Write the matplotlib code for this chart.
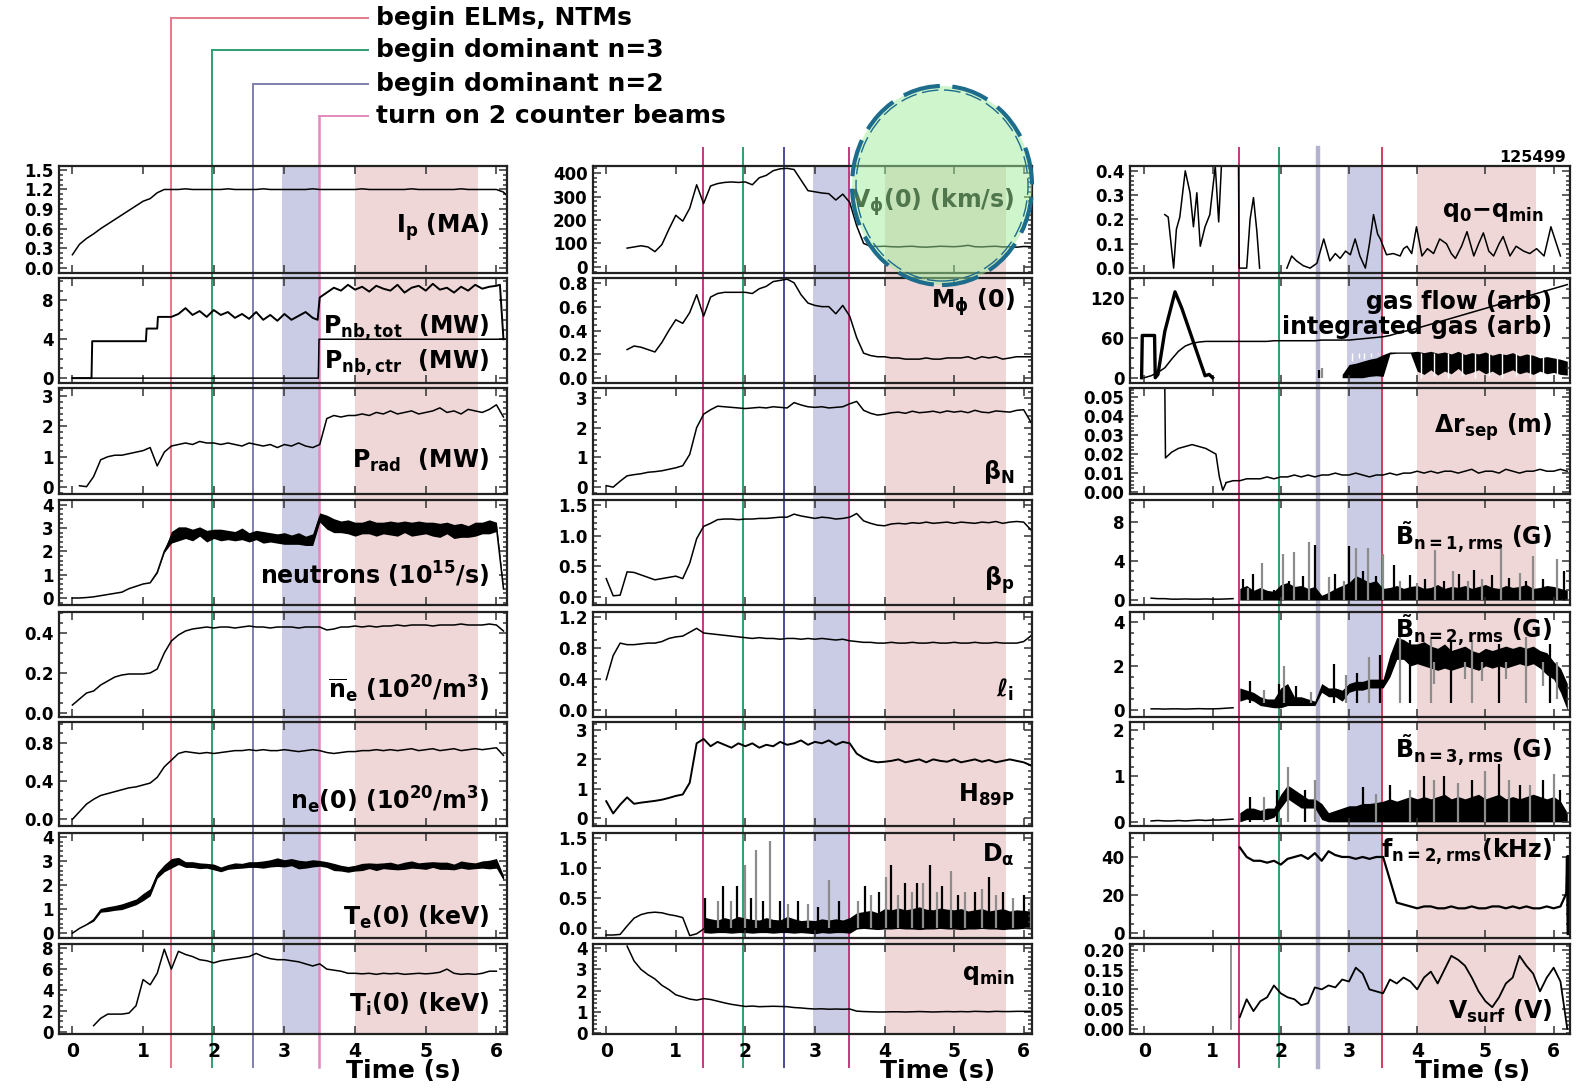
import numpy as np
import matplotlib
matplotlib.use('Agg')
import matplotlib.pyplot as plt
from matplotlib.patches import Rectangle, Ellipse
from matplotlib.lines import Line2D
from matplotlib.ticker import FixedLocator, FormatStrFormatter, AutoMinorLocator

plt.rcParams['font.family'] = ['DejaVu Sans']
plt.rcParams['font.weight'] = 'bold'
plt.rcParams['mathtext.fontset'] = 'custom'
plt.rcParams['mathtext.rm'] = 'DejaVu Sans:bold'
plt.rcParams['mathtext.bf'] = 'DejaVu Sans:bold'
plt.rcParams['mathtext.it'] = 'DejaVu Sans:bold'
plt.rcParams['mathtext.sf'] = 'DejaVu Sans:bold'
plt.rcParams['mathtext.default'] = 'bf'

N = np.nan
T = np.round(np.arange(0.0, 6.25, 0.1), 2)   # common time base, 0.0 .. 6.2 s
T14 = T[14:]                                 # from 1.4 s

# ---- events / phases ----
event_t = [1.39, 1.97, 2.55, 3.49]
event_text = ['begin ELMs, NTMs', 'begin dominant n=3', 'begin dominant n=2',
              'turn on 2 counter beams']
band_blue = [2.97, 3.49]
band_pink = [4.0, 5.74]

# ---- left column ----
ip = [0.20, 0.36, 0.45, 0.52, 0.60, 0.67, 0.74, 0.81, 0.88, 0.95,
      1.02, 1.06, 1.15, 1.20, 1.20, 1.20, 1.21, 1.20, 1.20, 1.20,
      1.20, 1.20, 1.21, 1.20, 1.20, 1.20, 1.20, 1.21, 1.20, 1.20,
      1.20, 1.20, 1.20, 1.20, 1.21, 1.20, 1.20, 1.20, 1.20, 1.20,
      1.20, 1.21, 1.20, 1.20, 1.20, 1.20, 1.20, 1.20, 1.21, 1.20,
      1.20, 1.20, 1.20, 1.20, 1.20, 1.21, 1.20, 1.20, 1.20, 1.20,
      1.20, 1.16, 1.05]

pnb_t = [0.0, 0.27, 0.28, 1.04, 1.05, 1.20, 1.21,
         1.4, 1.5, 1.6, 1.7, 1.8, 1.9, 2.0, 2.1, 2.2, 2.3,
         2.4, 2.5, 2.6, 2.7, 2.8, 2.9, 3.0, 3.1, 3.2, 3.3,
         3.4, 3.47, 3.5, 3.6, 3.7, 3.8, 3.9, 4.0, 4.1, 4.2,
         4.3, 4.4, 4.5, 4.6, 4.7, 4.8, 4.9, 5.0, 5.1, 5.2,
         5.3, 5.4, 5.5, 5.6, 5.7, 5.8, 5.9, 6.0, 6.05, 6.1]
pnb_v = [0.0, 0.0, 3.8, 3.8, 5.1, 5.1, 6.3,
         6.3, 6.6, 7.2, 6.5, 6.9, 6.3, 7.0, 6.5, 6.8, 6.2,
         6.6, 6.1, 6.8, 6.0, 6.5, 5.9, 6.6, 6.0, 6.4, 6.8,
         6.2, 6.0, 8.3, 8.8, 9.3, 9.0, 9.6, 9.1, 9.4, 8.9,
         9.5, 9.2, 9.0, 9.6, 8.8, 9.3, 9.5, 9.0, 9.7, 9.1,
         9.3, 8.8, 9.4, 9.0, 9.6, 9.2, 9.4, 9.5, 9.6, 4.0]
pnb_ctr_t = [0.0, 3.48, 3.49, 6.2]
pnb_ctr_v = [0.0, 0.0, 4.0, 4.0]

prad = [N, 0.05, 0.02, 0.35, 0.90, 1.00, 1.05, 1.05, 1.10, 1.15,
        1.20, 1.30, 0.70, 1.15, 1.35, 1.40, 1.45, 1.40, 1.50, 1.45,
        1.45, 1.40, 1.45, 1.40, 1.35, 1.45, 1.40, 1.35, 1.40, 1.30,
        1.40, 1.35, 1.45, 1.35, 1.30, 1.40, 2.25, 2.35, 2.30, 2.35,
        2.35, 2.40, 2.35, 2.45, 2.40, 2.50, 2.40, 2.45, 2.50, 2.40,
        2.45, 2.50, 2.60, 2.45, 2.50, 2.40, 2.55, 2.50, 2.45, 2.55,
        2.70, 2.30, N]

neut = [0.00, 0.00, 0.02, 0.05, 0.10, 0.15, 0.20, 0.25, 0.40, 0.50,
        0.60, 0.65, 1.10, 2.00, 2.60, 2.75, 2.80, 2.70, 2.85, 2.65,
        2.75, 2.70, 2.70, 2.65, 2.75, 2.60, 2.70, 2.60, 2.60, 2.55,
        2.55, 2.50, 2.55, 2.45, 2.50, 3.45, 3.25, 3.10, 3.05, 3.05,
        2.95, 3.00, 3.05, 2.95, 3.00, 3.00, 2.95, 3.05, 2.95, 3.00,
        3.00, 2.95, 2.90, 3.00, 2.85, 2.90, 2.85, 2.95, 3.00, 3.05,
        3.05, 0.40, N]
neut_amp = [0, 0, 0, 0, 0, 0, 0, 0, 0, 0,
            0, 0, 0.03, 0.05, 0.25, 0.30, 0.25, 0.25, 0.20, 0.25,
            0.20, 0.25, 0.20, 0.20, 0.25, 0.20, 0.20, 0.25, 0.20, 0.20,
            0.25, 0.20, 0.25, 0.20, 0.25, 0.20, 0.30, 0.30, 0.25, 0.30,
            0.30, 0.25, 0.30, 0.30, 0.25, 0.30, 0.30, 0.25, 0.30, 0.30,
            0.25, 0.30, 0.30, 0.25, 0.30, 0.30, 0.25, 0.30, 0.25, 0.30,
            0.20, 0.05, 0]

neb = [0.04, 0.07, 0.10, 0.11, 0.14, 0.16, 0.18, 0.19, 0.195, 0.195,
       0.195, 0.20, 0.22, 0.30, 0.36, 0.39, 0.41, 0.42, 0.425, 0.43,
       0.425, 0.43, 0.43, 0.425, 0.43, 0.435, 0.43, 0.43, 0.425, 0.43,
       0.43, 0.43, 0.425, 0.43, 0.43, 0.43, 0.415, 0.42, 0.43, 0.43,
       0.435, 0.43, 0.435, 0.43, 0.435, 0.435, 0.44, 0.435, 0.44, 0.44,
       0.44, 0.435, 0.44, 0.44, 0.44, 0.445, 0.44, 0.44, 0.44, 0.445,
       0.44, 0.41, N]

ne0 = [0.00, 0.08, 0.16, 0.21, 0.25, 0.27, 0.29, 0.31, 0.33, 0.34,
       0.36, 0.38, 0.44, 0.55, 0.62, 0.69, 0.71, 0.70, 0.69, 0.70,
       0.69, 0.70, 0.71, 0.72, 0.72, 0.73, 0.72, 0.73, 0.72, 0.72,
       0.73, 0.72, 0.71, 0.72, 0.73, 0.72, 0.70, 0.69, 0.70, 0.71,
       0.71, 0.72, 0.72, 0.73, 0.72, 0.73, 0.72, 0.73, 0.74, 0.72,
       0.73, 0.74, 0.72, 0.73, 0.74, 0.72, 0.73, 0.74, 0.73, 0.74,
       0.75, 0.67, N]

te = [0.00, 0.20, 0.35, 0.55, 0.95, 1.00, 1.05, 1.10, 1.20, 1.30,
      1.50, 1.70, 2.40, 2.70, 2.90, 3.00, 2.85, 2.85, 2.80, 2.80,
      2.75, 2.65, 2.75, 2.80, 2.80, 2.85, 2.85, 2.85, 2.90, 2.95,
      2.90, 2.95, 2.85, 2.85, 2.90, 2.90, 2.85, 2.75, 2.70, 2.65,
      2.70, 2.75, 2.80, 2.75, 2.80, 2.80, 2.75, 2.80, 2.85, 2.80,
      2.80, 2.85, 2.80, 2.80, 2.75, 2.85, 2.80, 2.80, 2.85, 2.85,
      2.90, 2.30, N]
te_amp = [0, 0, 0, 0.05, 0.08, 0.10, 0.10, 0.12, 0.12, 0.12,
          0.15, 0.15, 0.12, 0.15, 0.20, 0.15, 0.12, 0.12, 0.12, 0.10,
          0.12, 0.10, 0.10, 0.12, 0.10, 0.12, 0.12, 0.15, 0.15, 0.18,
          0.15, 0.15, 0.18, 0.15, 0.15, 0.12, 0.12, 0.15, 0.12, 0.12,
          0.12, 0.15, 0.12, 0.15, 0.12, 0.15, 0.12, 0.15, 0.15, 0.12,
          0.15, 0.12, 0.15, 0.15, 0.12, 0.15, 0.15, 0.12, 0.15, 0.18,
          0.20, 0.10, 0]

ti = [N, N, N, 0.60, 1.30, 1.70, 1.70, 1.70, 1.80, 2.50,
      5.00, 4.50, 5.60, 7.90, 6.00, 7.70, 7.40, 7.20, 6.90, 6.80,
      6.60, 6.80, 6.90, 7.00, 7.10, 7.20, 7.50, 7.20, 7.00, 6.90,
      6.90, 6.80, 6.70, 6.50, 6.30, 6.50, 6.00, 5.90, 5.80, 5.60,
      5.60, 5.55, 5.60, 5.50, 5.60, 5.55, 5.60, 5.50, 5.55, 5.60,
      5.55, 5.60, 5.70, 6.00, 5.60, 5.50, 5.55, 5.50, 5.60, 5.80,
      5.80, N, N]

# ---- middle column ----
vphi = [N, N, N, 80, 85, 90, 85, 65, 95, 160,
        220, 195, 250, 350, 270, 345, 355, 360, 362, 360,
        362, 350, 380, 390, 410, 418, 420, 415, 370, 325,
        320, 315, 312, 285, 310, 275, 175, 100, 88, 87,
        88, 86, 85, 87, 88, 85, 84, 86, 88, 87,
        86, 88, 92, 86, 85, 87, 88, 85, 86, 84,
        87, 86, 88]

mphi = [N, N, N, 0.24, 0.27, 0.26, 0.24, 0.22, 0.30, 0.40,
        0.49, 0.46, 0.55, 0.70, 0.52, 0.68, 0.71, 0.72, 0.72, 0.72,
        0.72, 0.71, 0.75, 0.77, 0.81, 0.82, 0.83, 0.80, 0.70, 0.63,
        0.61, 0.60, 0.60, 0.54, 0.61, 0.52, 0.34, 0.21, 0.19, 0.18,
        0.18, 0.17, 0.17, 0.16, 0.16, 0.16, 0.17, 0.16, 0.16, 0.17,
        0.17, 0.17, 0.18, 0.16, 0.18, 0.17, 0.18, 0.16, 0.17, 0.18,
        0.18, 0.18, 0.18]

betan = [0.05, 0.00, 0.20, 0.38, 0.42, 0.45, 0.50, 0.52, 0.55, 0.60,
         0.65, 0.72, 1.10, 2.00, 2.45, 2.60, 2.72, 2.70, 2.68, 2.66,
         2.64, 2.66, 2.68, 2.66, 2.70, 2.68, 2.66, 2.84, 2.76, 2.70,
         2.68, 2.70, 2.66, 2.68, 2.70, 2.80, 2.88, 2.58, 2.48, 2.42,
         2.45, 2.50, 2.52, 2.48, 2.55, 2.50, 2.52, 2.55, 2.50, 2.56,
         2.52, 2.55, 2.50, 2.58, 2.52, 2.50, 2.56, 2.54, 2.52, 2.58,
         2.60, 2.20, 1.85]

betap = [0.30, 0.02, 0.03, 0.41, 0.40, 0.36, 0.32, 0.28, 0.30, 0.32,
         0.34, 0.30, 0.55, 0.95, 1.15, 1.20, 1.26, 1.27, 1.27, 1.26,
         1.27, 1.27, 1.28, 1.28, 1.29, 1.30, 1.30, 1.35, 1.32, 1.30,
         1.28, 1.30, 1.29, 1.27, 1.28, 1.30, 1.36, 1.24, 1.20, 1.17,
         1.16, 1.19, 1.20, 1.19, 1.21, 1.20, 1.22, 1.20, 1.21, 1.22,
         1.20, 1.22, 1.21, 1.20, 1.22, 1.21, 1.23, 1.20, 1.22, 1.23,
         1.22, 1.10, 0.95]

li = [0.39, 0.70, 0.86, 0.84, 0.84, 0.85, 0.86, 0.86, 0.88, 0.92,
      0.94, 0.95, 1.00, 1.05, 0.99, 0.98, 0.97, 0.96, 0.95, 0.94,
      0.93, 0.92, 0.93, 0.92, 0.92, 0.91, 0.92, 0.92, 0.91, 0.92,
      0.91, 0.92, 0.91, 0.90, 0.91, 0.89, 0.88, 0.87, 0.87, 0.86,
      0.86, 0.87, 0.86, 0.86, 0.87, 0.86, 0.86, 0.87, 0.86, 0.86,
      0.87, 0.86, 0.86, 0.87, 0.86, 0.86, 0.87, 0.86, 0.86, 0.86,
      0.88, 0.95, 1.05]

h89 = [0.57, 0.15, 0.45, 0.70, 0.48, 0.52, 0.55, 0.58, 0.62, 0.68,
       0.75, 0.80, 1.20, 2.55, 2.70, 2.45, 2.60, 2.50, 2.40, 2.55,
       2.45, 2.55, 2.40, 2.50, 2.45, 2.60, 2.50, 2.55, 2.65, 2.50,
       2.60, 2.55, 2.65, 2.50, 2.60, 2.55, 2.20, 2.05, 1.95, 1.90,
       1.92, 1.95, 2.00, 1.90, 1.95, 2.00, 1.90, 2.00, 1.95, 1.92,
       2.00, 1.90, 1.95, 2.00, 1.92, 1.98, 1.90, 1.95, 2.00, 1.95,
       1.90, 1.80, 1.60]

da_pre = [-0.12, -0.12, -0.11, 0.03, 0.16, 0.22, 0.25, 0.26, 0.25, 0.22,
          0.20, 0.17, -0.13, -0.10, -0.02]
da_hi = [0.18, 0.15, 0.13, 0.17, 0.14, 0.19, 0.16, 0.14, 0.13, 0.17,
         0.14, 0.13, 0.19, 0.15, 0.12, 0.13, 0.12, 0.15, 0.13, 0.15,
         0.13, 0.17, 0.25, 0.27, 0.29, 0.25, 0.32, 0.30, 0.33, 0.30,
         0.32, 0.35, 0.31, 0.30, 0.33, 0.31, 0.30, 0.32, 0.28, 0.30,
         0.32, 0.28, 0.30, 0.32, 0.28, 0.30, 0.29, 0.28, 0.26]
da_lo = [-0.08, -0.09, -0.08, -0.08, -0.09, -0.08, -0.08, -0.09, -0.08, -0.08,
         -0.09, -0.08, -0.08, -0.09, -0.08, -0.09, -0.10, -0.08, -0.09, -0.08,
         -0.08, -0.09, -0.02, -0.01, -0.02, -0.03, -0.02, -0.02, -0.01, -0.02,
         -0.02, -0.03, -0.02, -0.02, -0.01, -0.02, -0.02, -0.03, -0.02, -0.02,
         -0.01, -0.02, -0.02, -0.03, -0.02, -0.02, -0.01, -0.02, -0.03]
da_sp_t = [1.42, 1.60, 1.68, 1.80, 1.88, 2.00, 2.08, 2.15, 2.25, 2.35,
           2.50, 2.62, 2.75, 2.90, 3.05, 3.20, 3.35, 3.62, 3.72, 3.80,
           3.92, 4.02, 4.10, 4.20, 4.30, 4.40, 4.47, 4.55, 4.65, 4.75,
           4.82, 4.95, 5.05, 5.15, 5.30, 5.40, 5.50, 5.60, 5.70, 5.85,
           6.00, 6.10]
da_sp_h = [0.50, 0.45, 0.70, 0.45, 0.70, 1.05, 0.50, 1.30, 0.45, 1.45,
           0.45, 0.40, 0.45, 0.40, 0.35, 0.80, 0.45, 0.45, 0.70, 0.55,
           0.60, 0.85, 1.05, 0.55, 0.75, 0.60, 0.75, 0.75, 1.05, 0.60,
           0.70, 0.95, 0.55, 0.60, 0.60, 0.65, 0.85, 0.55, 0.60, 0.50,
           0.55, 0.50]

qmin = [N, N, N, 4.10, 3.40, 3.00, 2.75, 2.55, 2.25, 2.05,
        1.80, 1.70, 1.60, 1.55, 1.62, 1.58, 1.50, 1.42, 1.35, 1.30,
        1.25, 1.27, 1.24, 1.25, 1.26, 1.25, 1.24, 1.20, 1.18, 1.15,
        1.13, 1.14, 1.12, 1.13, 1.12, 1.13, 1.03, 1.01, 1.00, 0.99,
        0.99, 1.00, 1.00, 0.99, 1.00, 1.01, 1.00, 0.99, 1.00, 1.01,
        1.00, 1.01, 1.00, 1.02, 1.01, 1.00, 1.02, 1.01, 1.01, 1.02,
        1.02, 1.02, N]

# ---- right column ----
q0a_t = [0.30, 0.35, 0.43, 0.47, 0.52, 0.60, 0.67, 0.72, 0.77, 0.82,
         0.89, 0.96, 1.04, 1.09, 1.13, 1.21, 1.30, 1.38, 1.39, 1.50,
         1.55, 1.60, 1.65, 1.69]
q0a_v = [0.22, 0.21, 0.0, 0.16, 0.21, 0.40, 0.31, 0.17, 0.31, 0.09,
         0.17, 0.22, 0.42, 0.19, 0.42, 0.45, 0.45, 0.45, 0.0, 0.0,
         0.20, 0.29, 0.15, 0.0]
q0b_t = [2.09, 2.16, 2.23, 2.33, 2.43, 2.53, 2.63, 2.72, 2.80, 2.87,
         2.95, 3.02, 3.09, 3.16, 3.24, 3.30, 3.36, 3.42, 3.46, 3.55,
         3.65, 3.75, 3.80, 3.85, 3.92, 3.99, 4.07, 4.15, 4.24, 4.33,
         4.43, 4.50, 4.56, 4.65, 4.73, 4.83, 4.90, 4.97, 5.05, 5.12,
         5.20, 5.26, 5.36, 5.45, 5.56, 5.65, 5.75, 5.86, 5.96, 6.10]
q0b_v = [0.0, 0.05, 0.03, 0.01, 0.0, 0.02, 0.12, 0.03, 0.06, 0.04,
         0.07, 0.055, 0.12, 0.05, 0.0, 0.10, 0.22, 0.14, 0.12, 0.055,
         0.06, 0.05, 0.08, 0.09, 0.06, 0.17, 0.05, 0.08, 0.06, 0.12,
         0.10, 0.06, 0.04, 0.09, 0.15, 0.05, 0.10, 0.145, 0.07, 0.05,
         0.10, 0.13, 0.05, 0.09, 0.07, 0.06, 0.08, 0.05, 0.17, 0.05]

gas_t = [-0.04, -0.03, 0.15, 0.16, 0.20, 0.30, 0.45, 0.55, 0.65, 0.75,
         0.89, 0.95, 1.00]
gas_v = [0, 64, 64, 0, 5, 70, 130, 105, 75, 45, 3, 5, 0]
gas_lo = [0, 0, 0, 0, 2, 3, 2, 36, 37, 37,
          37, 10, 5, 12, 4, 10, 6, 14, 5, 8,
          12, 6, 10, 4, 8, 12, 6, 9, 5, 10,
          6, 8, 5, 4]
gas_hi = [5, 20, 22, 25, 28, 30, 35, 39, 39, 39,
          39, 40, 38, 40, 37, 39, 36, 40, 35, 38,
          36, 39, 34, 37, 35, 38, 33, 36, 34, 30,
          32, 30, 28, 25]
gas_blip_t = [2.56, 2.60]
gas_blip_h = [12, 15]
gas_sp_t = [3.05, 3.15, 3.22, 3.32, 3.42, 4.05, 4.25, 4.45, 4.65, 4.85,
            5.05, 5.25, 5.45, 5.65, 5.85, 6.05]
gas_sp_h = [25, 30, 28, 32, 36, 0, 2, 0, 3, 0,
            2, 0, 3, 0, 2, 0]
integ = [0, 3, 8, 15, 28, 40, 48, 52, 54, 55,
         55, 55, 55, 55, 55, 55, 55, 55, 55, 56,
         56, 56, 56, 56, 56, 56, 57, 57, 57, 57,
         57, 58, 59, 60, 61, 62, 64, 67, 70, 72,
         75, 78, 81, 84, 87, 90, 93, 96, 99, 102,
         105, 108, 111, 114, 117, 120, 123, 126, 129, 132,
         135, 138, 141]

dr0_t = [0.30, 0.31, 0.40, 0.50, 0.60, 0.70, 0.80, 0.90, 1.00, 1.05, 1.10, 1.15, 1.20]
dr0_v = [0.056, 0.018, 0.021, 0.023, 0.024, 0.025, 0.024, 0.023, 0.021, 0.020,
         0.008, 0.001, 0.005]
dr = [0.005, 0.006, 0.006, 0.007, 0.007, 0.007, 0.008, 0.007, 0.008, 0.008,
      0.009, 0.008, 0.009, 0.008, 0.009, 0.009, 0.010, 0.009, 0.009, 0.010,
      0.009, 0.008, 0.009, 0.009, 0.010, 0.009, 0.010, 0.010, 0.011, 0.010,
      0.011, 0.010, 0.011, 0.011, 0.010, 0.011, 0.012, 0.010, 0.011, 0.011,
      0.010, 0.012, 0.011, 0.010, 0.011, 0.011, 0.012, 0.011, 0.011, 0.012,
      0.011]

bn1_pre = [0.20, 0.15, 0.15, 0.10, 0.10, 0.12, 0.10, 0.10, 0.12, 0.10, 0.10, 0.12, 0.15]
bn1_hi = [1.2, 1.5, 1.0, 1.3, 1.0, 0.9, 1.6, 1.8, 1.4, 1.5,
          1.2, 1.4, 0.5, 0.8, 1.2, 1.5, 1.8, 2.5, 2.2, 1.8,
          2.0, 1.2, 1.3, 1.5, 1.2, 1.4, 1.5, 1.2, 1.3, 1.6,
          1.2, 1.4, 1.3, 1.5, 1.2, 1.4, 1.6, 1.3, 1.2, 1.5,
          1.3, 1.4, 1.6, 1.2, 1.3, 1.5, 1.4, 1.2, 1.0]
bn1_sp_t = [1.44, 1.52, 1.60, 1.72, 1.90, 2.04, 2.12, 2.20, 2.32, 2.41,
            2.50, 2.70, 2.80, 2.92, 3.00, 3.11, 3.20, 3.28, 3.40, 3.50,
            3.66, 3.75, 3.90, 4.00, 4.12, 4.26, 4.40, 4.52, 4.62, 4.74,
            4.84, 4.95, 5.10, 5.23, 5.35, 5.50, 5.60, 5.70, 5.85, 6.05,
            6.15]
bn1_sp_h = [2.2, 1.2, 2.7, 3.8, 1.0, 4.7, 2.0, 4.9, 2.5, 6.0,
            5.6, 2.4, 2.7, 2.0, 5.5, 5.3, 3.0, 5.3, 2.5, 4.7,
            3.6, 2.0, 2.6, 1.8, 2.2, 5.1, 2.0, 3.0, 2.7, 2.0,
            3.1, 2.2, 2.6, 5.3, 2.3, 2.8, 2.0, 4.5, 2.2, 4.2,
            3.0]

bn2_pre = [0.05, 0.05, 0.04, 0.05, 0.05, 0.04, 0.05, 0.06, 0.05, 0.05, 0.06, 0.08, 0.10]
bn2_lo = [0.4, 0.5, 0.4, 0.2, 0.15, 0.1, 0.1, 0.2, 0.2, 0.2,
          0.2, 0.2, 0.8, 0.6, 0.6, 0.4, 0.8, 0.9, 0.9, 1.0,
          1.0, 1.0, 1.5, 2.3, 2.3, 2.0, 2.1, 2.0, 1.9, 1.8,
          1.9, 1.8, 1.9, 2.0, 1.9, 1.8, 2.0, 1.9, 2.0, 1.9,
          2.0, 2.1, 2.0, 2.1, 1.9, 1.6, 1.4, 0.8, 0.0]
bn2_hi = [1.0, 0.9, 0.8, 0.6, 0.5, 0.5, 1.0, 1.2, 0.6, 0.6,
          0.5, 0.4, 1.2, 1.0, 1.0, 0.9, 1.2, 1.3, 1.3, 1.4,
          1.4, 1.4, 2.5, 3.3, 3.2, 3.0, 3.0, 3.1, 2.9, 2.8,
          3.0, 2.7, 2.8, 2.9, 2.7, 2.6, 2.8, 2.7, 2.8, 2.9,
          2.8, 2.9, 2.8, 2.9, 2.7, 2.6, 2.2, 1.9, 1.2]
bn2_sp_t = [1.55, 1.75, 1.98, 2.05, 2.22, 2.45, 2.78, 2.95, 3.12, 3.30,
            3.45, 3.75, 3.90, 4.20, 4.50, 4.80, 5.20, 5.60, 5.95]
bn2_sp_h = [1.3, 0.9, 1.2, 2.0, 1.1, 0.8, 2.1, 1.6, 1.7, 2.4,
            2.5, 3.4, 3.2, 3.3, 3.1, 3.2, 3.0, 3.3, 3.0]
bn2_dn_t = [4.25, 4.70, 4.95, 5.30, 5.85, 6.05]
bn2_dn_v = [1.2, 1.4, 1.3, 1.4, 1.1, 0.5]

bn3_pre = [0.02, 0.03, 0.02, 0.02, 0.03, 0.02, 0.03, 0.04, 0.03, 0.04, 0.04, 0.05, 0.06]
bn3_lo = [0.00, 0.05, 0.05, 0.05, 0.05, 0.10, 0.30, 0.50, 0.40, 0.30,
          0.30, 0.30, 0.05, 0.00, 0.00, 0.00, 0.00, 0.00, 0.00, 0.00,
          0.00, 0.00, 0.00, 0.00, 0.00, 0.00, 0.00, 0.00, 0.00, 0.00,
          0.00, 0.00, 0.00, 0.00, 0.00, 0.00, 0.00, 0.00, 0.00, 0.00,
          0.00, 0.00, 0.00, 0.00, 0.00, 0.00, 0.00, 0.00, 0.00]
bn3_hi = [0.20, 0.30, 0.30, 0.25, 0.30, 0.30, 0.60, 0.80, 0.70, 0.60,
          0.50, 0.50, 0.40, 0.20, 0.25, 0.30, 0.35, 0.35, 0.40, 0.40,
          0.42, 0.45, 0.50, 0.45, 0.50, 0.55, 0.50, 0.55, 0.50, 0.55,
          0.60, 0.50, 0.55, 0.50, 0.55, 0.60, 0.50, 0.55, 0.60, 0.50,
          0.55, 0.50, 0.55, 0.60, 0.55, 0.50, 0.55, 0.45, 0.20]
bn3_sp_t = [1.55, 1.75, 1.95, 2.10, 2.35, 2.50, 3.20, 3.40, 3.60, 3.90,
            4.10, 4.25, 4.40, 4.60, 4.80, 5.00, 5.20, 5.35, 5.50, 5.65,
            5.85, 6.00, 6.10]
bn3_sp_h = [0.55, 0.55, 0.70, 1.20, 0.70, 0.90, 0.75, 0.60, 0.80, 0.70,
            1.00, 0.90, 1.00, 0.85, 0.90, 1.10, 1.25, 0.90, 0.80, 0.80,
            0.90, 1.05, 0.70]

fn2 = [45, 40, 38, 38, 37, 38, 36, 39, 40, 41,
       39, 42, 38, 43, 41, 40, 40, 39, 40, 39,
       40, 40, 28, 16, 15, 14, 13, 14, 14, 13,
       13, 14, 13, 13, 14, 13, 13, 14, 14, 13,
       14, 13, 14, 13, 13, 14, 13, 14, 22]
fn2_tail_t = [6.2, 6.21, 6.22]
fn2_tail_v = [22, 40, 0]

vs_pre_t = [1.27, 1.27]
vs_pre_v = [0.21, 0.0]
vs = [0.030, 0.075, 0.045, 0.070, 0.080, 0.110, 0.090, 0.080, 0.075, 0.060,
      0.065, 0.105, 0.100, 0.110, 0.105, 0.125, 0.120, 0.155, 0.140, 0.100,
      0.095, 0.090, 0.125, 0.115, 0.130, 0.120, 0.100, 0.130, 0.145, 0.115,
      0.150, 0.185, 0.175, 0.160, 0.130, 0.095, 0.070, 0.055, 0.080, 0.115,
      0.130, 0.185, 0.160, 0.140, 0.095, 0.130, 0.155, 0.120, 0.000]

# ---------------------------------------------------------------------------
W, H = 1580, 1088
fig = plt.figure(figsize=(W / 100, H / 100), dpi=100)

rows = [(166, 273), (278, 383), (388, 494), (500, 605),
        (612, 717), (722, 826), (833, 938), (944, 1034)]
cols = [(59, 507, (-0.19, 6.15)), (593, 1032, (-0.19, 6.12)), (1130, 1570, (-0.21, 6.24))]
LW = 1.1
LABEL_FS = 17


def make_ax(c, r, ylim, yticks, fmt, label=None, ly=0.5, lx=0.96):
    x0, x1, xl = cols[c]
    y0, y1 = rows[r]
    ax = fig.add_axes([x0 / W, 1 - y1 / H, (x1 - x0) / W, (y1 - y0) / H])
    ax.set_facecolor('none')
    ax.set_xlim(*xl)
    ax.set_ylim(*ylim)
    ax.xaxis.set_major_locator(FixedLocator(range(7)))
    ax.yaxis.set_major_locator(FixedLocator(yticks))
    ax.yaxis.set_major_formatter(FormatStrFormatter(fmt))
    ax.yaxis.set_minor_locator(AutoMinorLocator())
    ax.tick_params(which='both', direction='in', top=True, right=True,
                   labelsize=12, color='#333333', width=1.1, pad=4)
    ax.tick_params(which='major', length=6)
    ax.tick_params(which='minor', length=3)
    ax.tick_params(axis='x', labelbottom=(r == 7), labelsize=13.5, pad=6)
    for s in ax.spines.values():
        s.set_linewidth(1.6)
        s.set_color('#222222')
    if label:
        ax.text(lx, ly, label, transform=ax.transAxes, ha='right', va='center',
                fontsize=LABEL_FS, fontweight='bold')
    return ax


def spikes(ax, t, h, base=0.0):
    cs = ['k' if i % 2 == 0 else '0.55' for i in range(len(t))]
    ax.vlines(t, base, h, colors=cs, lw=1.6)


def noisy(ax, t, v, amp):
    v = np.array(v, dtype=float)
    a = np.array(amp, dtype=float)
    ax.fill_between(t, v - a, v + a, color='k', lw=0)
    ax.plot(t, v, color='k', lw=LW)


axes = [[], [], []]

# left column
ax = make_ax(0, 0, (-0.08, 1.56), [0, 0.3, 0.6, 0.9, 1.2, 1.5], '%.1f', r'I$_{p}$ (MA)', 0.43)
ax.plot(T, ip, color='k', lw=LW)
axes[0].append(ax)

ax = make_ax(0, 1, (-0.5, 10.3), [0, 4, 8], '%d', r'P$_{nb,tot}$  (MW)', 0.53)
ax.plot(pnb_t, pnb_v, color='k', lw=1.4)
ax.plot(pnb_ctr_t, pnb_ctr_v, color='k', lw=LW)
ax.text(0.96, 0.19, r'P$_{nb,ctr}$  (MW)', transform=ax.transAxes, ha='right',
        va='center', fontsize=LABEL_FS, fontweight='bold')
axes[0].append(ax)

ax = make_ax(0, 2, (-0.22, 3.25), [0, 1, 2, 3], '%d', r'P$_{rad}$  (MW)', 0.32)
ax.plot(T, prad, color='k', lw=LW)
axes[0].append(ax)

ax = make_ax(0, 3, (-0.3, 4.2), [0, 1, 2, 3, 4], '%d', r'neutrons (10$^{15}$/s)', 0.29)
noisy(ax, T, neut, neut_amp)
axes[0].append(ax)

ax = make_ax(0, 4, (-0.02, 0.505), [0, 0.2, 0.4], '%.1f',
             r'$\overline{n}_{e}$ (10$^{20}$/m$^{3}$)', 0.26)
ax.plot(T, neb, color='k', lw=LW)
axes[0].append(ax)

ax = make_ax(0, 5, (-0.07, 1.02), [0, 0.4, 0.8], '%.1f',
             r'n$_{e}$(0) (10$^{20}$/m$^{3}$)', 0.25)
ax.plot(T, ne0, color='k', lw=LW)
axes[0].append(ax)

ax = make_ax(0, 6, (-0.2, 4.16), [0, 1, 2, 3, 4], '%d', r'T$_{e}$(0) (keV)', 0.2)
noisy(ax, T, te, te_amp)
axes[0].append(ax)

ax = make_ax(0, 7, (-0.2, 8.4), [0, 2, 4, 6, 8], '%d', r'T$_{i}$(0) (keV)', 0.33)
ax.plot(T, ti, color='k', lw=LW)
axes[0].append(ax)

# middle column
ax = make_ax(1, 0, (-26, 430), [0, 100, 200, 300, 400], '%d', r'V$_{\phi}$(0) (km/s)', 0.66)
ax.plot(T, vphi, color='k', lw=LW)
axes[1].append(ax)

ax = make_ax(1, 1, (-0.04, 0.84), [0, 0.2, 0.4, 0.6, 0.8], '%.1f', r'M$_{\phi}$ (0)', 0.77)
ax.plot(T, mphi, color='k', lw=LW)
axes[1].append(ax)

ax = make_ax(1, 2, (-0.23, 3.33), [0, 1, 2, 3], '%d', r'$\beta_{N}$', 0.21)
ax.plot(T, betan, color='k', lw=LW)
axes[1].append(ax)

ax = make_ax(1, 3, (-0.13, 1.58), [0, 0.5, 1.0, 1.5], '%.1f', r'$\beta_{p}$', 0.24)
ax.plot(T, betap, color='k', lw=LW)
axes[1].append(ax)

ax = make_ax(1, 4, (-0.09, 1.26), [0, 0.4, 0.8, 1.2], '%.1f', r'$\ell_{i}$', 0.26)
ax.plot(T, li, color='k', lw=LW)
axes[1].append(ax)

ax = make_ax(1, 5, (-0.28, 3.28), [0, 1, 2, 3], '%d', r'H$_{89P}$', 0.3)
ax.plot(T, h89, color='k', lw=1.4)
axes[1].append(ax)

ax = make_ax(1, 6, (-0.17, 1.58), [0, 0.5, 1.0, 1.5], '%.1f', r'D$_{\alpha}$', 0.79)
ax.plot(T[:15], da_pre, color='k', lw=LW)
ax.fill_between(T14, da_lo, da_hi, color='k', lw=0)
spikes(ax, da_sp_t, da_sp_h, 0.0)
axes[1].append(ax)

ax = make_ax(1, 7, (-0.05, 4.2), [0, 1, 2, 3, 4], '%d', r'q$_{min}$', 0.66)
ax.plot(T, qmin, color='k', lw=LW)
axes[1].append(ax)

# right column
ax = make_ax(2, 0, (-0.02, 0.42), [0, 0.1, 0.2, 0.3, 0.4], '%.1f', r'q$_{0}$$-$q$_{min}$', 0.57, 0.94)
ax.plot(q0a_t, q0a_v, color='k', lw=LW)
ax.plot(q0b_t, q0b_v, color='k', lw=LW)
axes[2].append(ax)

ax = make_ax(2, 1, (-8, 151), [0, 60, 120], '%d', None)
ax.plot(T, integ, color='k', lw=LW)
ax.plot(gas_t, gas_v, color='k', lw=2.4)
ax.fill_between(T[29:], gas_lo, gas_hi, color='k', lw=0)
spikes(ax, gas_blip_t, gas_blip_h, 0.0)
ax.vlines(gas_sp_t, gas_sp_h, 38, colors='white', lw=1.0)
ax.text(0.96, 0.77, 'gas flow (arb)', transform=ax.transAxes, ha='right', va='center',
        fontsize=LABEL_FS, fontweight='bold')
ax.text(0.96, 0.53, 'integrated gas (arb)', transform=ax.transAxes, ha='right',
        va='center', fontsize=LABEL_FS, fontweight='bold')
axes[2].append(ax)

ax = make_ax(2, 2, (-0.001, 0.0548), [0, 0.01, 0.02, 0.03, 0.04, 0.05], '%.2f',
             r'$\Delta$r$_{sep}$ (m)', 0.63)
ax.plot(dr0_t, dr0_v, color='k', lw=LW)
ax.plot(T[12:], dr, color='k', lw=LW)
axes[2].append(ax)

ax = make_ax(2, 3, (-0.5, 10.26), [0, 4, 8], '%d', r'$\tilde{B}_{n=1,rms}$ (G)', 0.64)
ax.plot(T[1:14], bn1_pre, color='k', lw=LW)
ax.fill_between(T14, 0, bn1_hi, color='k', lw=0)
spikes(ax, bn1_sp_t, bn1_sp_h, 0.0)
axes[2].append(ax)

ax = make_ax(2, 4, (-0.32, 4.45), [0, 2, 4], '%d', r'$\tilde{B}_{n=2,rms}$ (G)', 0.83)
ax.plot(T[1:14], bn2_pre, color='k', lw=LW)
ax.fill_between(T14, bn2_lo, bn2_hi, color='k', lw=0)
spikes(ax, bn2_sp_t, bn2_sp_h, 0.3)
ax.vlines(bn2_dn_t, bn2_dn_v, 2.2, colors='0.55', lw=1.6)
axes[2].append(ax)

ax = make_ax(2, 5, (-0.09, 2.17), [0, 1, 2], '%d', r'$\tilde{B}_{n=3,rms}$ (G)', 0.73)
ax.plot(T[1:14], bn3_pre, color='k', lw=LW)
ax.fill_between(T14, bn3_lo, bn3_hi, color='k', lw=0)
spikes(ax, bn3_sp_t, bn3_sp_h, 0.0)
axes[2].append(ax)

ax = make_ax(2, 6, (-2.6, 52.6), [0, 20, 40], '%d', r'f$_{n=2,rms}$(kHz)', 0.82)
ax.plot(T14, fn2, color='k', lw=1.6)
ax.plot(fn2_tail_t, fn2_tail_v, color='k', lw=3)
axes[2].append(ax)

ax = make_ax(2, 7, (-0.013, 0.215), [0, 0.05, 0.10, 0.15, 0.20], '%.2f', r'V$_{surf}$ (V)', 0.25)
ax.plot(vs_pre_t, vs_pre_v, color='0.5', lw=1.2)
ax.plot(T14, vs, color='k', lw=1.3)
axes[2].append(ax)

# ---- shaded phases, event markers ----
inv = fig.transFigure.inverted()


def fig_x(a, t):
    return inv.transform(a.transData.transform((t, 0.0)))[0]


ev_colors = [['#e8798a', '#2f9e70', '#8080ae', '#e38ac0'],
             ['#c23a7e', '#2f9e70', '#4a4a9a', '#c23a7e'],
             ['#c8387a', '#2f9e70', '#b3b3cf', '#d23e5c']]
ev_lw = [[1.4, 1.4, 1.4, 1.8], [1.4, 1.4, 1.4, 1.4], [1.4, 1.4, 3.2, 1.4]]
lead_y = [18, 50, 84, 116]

for c in range(3):
    a = axes[c][-1]
    yb, yt = 1 - rows[7][1] / H, 1 - rows[0][0] / H
    for (t0, t1), colr in ((band_blue, '#c9cce4'), (band_pink, '#efd7d7')):
        x0, x1 = fig_x(a, t0), fig_x(a, t1)
        fig.add_artist(Rectangle((x0, yb), x1 - x0, yt - yb, transform=fig.transFigure,
                                 facecolor=colr, edgecolor='none', zorder=-1))
    for k, t in enumerate(event_t):
        xf = fig_x(a, t)
        top = lead_y[k] if c == 0 else 148
        fig.add_artist(Line2D([xf, xf], [1 - 1067 / H, 1 - top / H], transform=fig.transFigure,
                              color=ev_colors[c][k], lw=ev_lw[c][k], zorder=-0.5))
        if c == 0:
            fig.add_artist(Line2D([xf, 368 / W], [1 - top / H] * 2, transform=fig.transFigure,
                                  color=ev_colors[c][k], lw=1.4, zorder=-0.5))
            fig.text(376 / W, 1 - top / H, event_text[k], ha='left', va='center',
                     fontsize=18, fontweight='bold')

for xc in (404, 938, 1473):
    fig.text(xc / W, 1 - 1071 / H, 'Time (s)', ha='center', va='center',
             fontsize=18, fontweight='bold')

fig.text(1566 / W, 1 - 158 / H, '125499', ha='right', va='center', fontsize=11.5,
         fontweight='bold')

# highlight circle over the rotation panel
cx, cy, ew, eh = 942 / W, 1 - 185.5 / H, 180 / W, 199 / H
fig.add_artist(Ellipse((cx, cy), ew, eh, transform=fig.transFigure,
                       facecolor=(0.62, 0.93, 0.6, 0.5), edgecolor='none', zorder=5))
fig.add_artist(Ellipse((cx, cy), ew, eh, transform=fig.transFigure, fill=False,
                       edgecolor='#1d6c8c', lw=3.0, linestyle=(0, (9, 3)), zorder=6))
fig.add_artist(Ellipse((cx, cy), ew - 8 / W, eh - 8 / H, transform=fig.transFigure,
                       fill=False, edgecolor='#1d6c8c', lw=1.0, linestyle=(0, (12, 4)),
                       zorder=6))

fig.savefig('out.png', dpi=100)
